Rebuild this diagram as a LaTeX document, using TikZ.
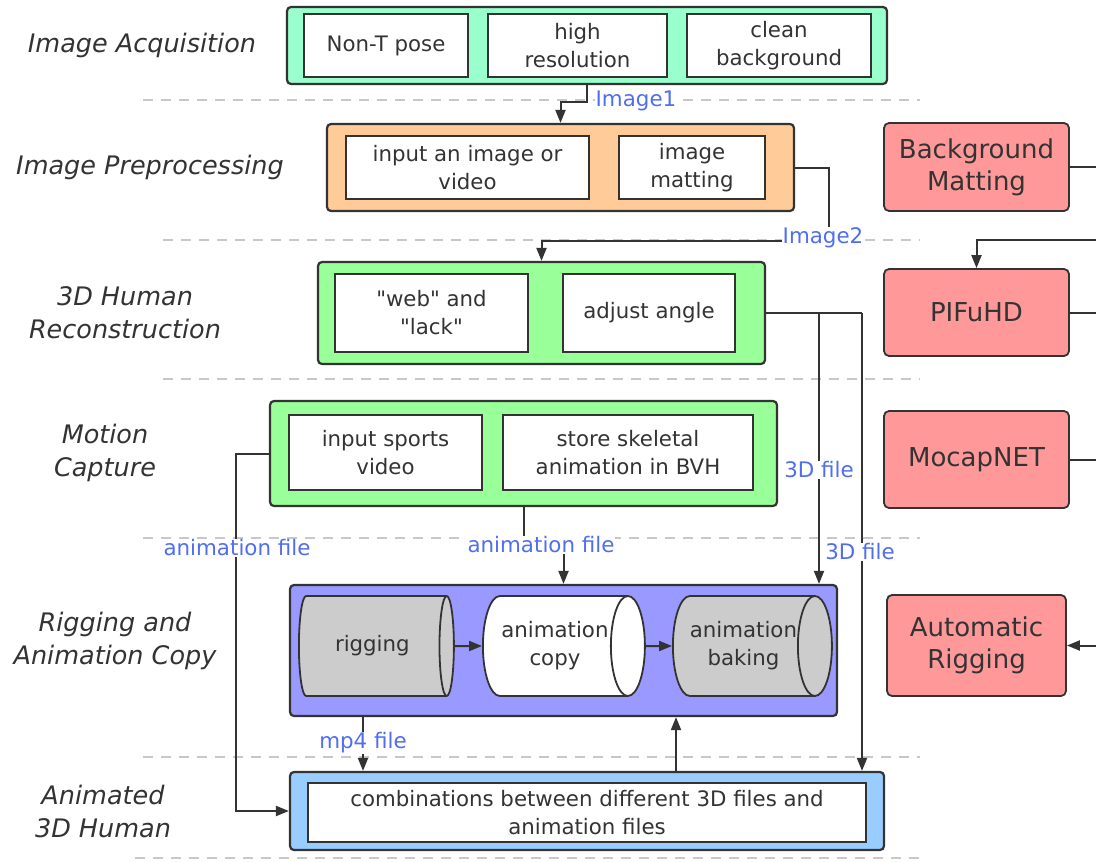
\documentclass[tikz,border=0pt]{standalone}
\usepackage{fontspec}
\setmainfont{DejaVu Sans}
\usetikzlibrary{arrows.meta,shapes.geometric}

\definecolor{linegray}{RGB}{51,51,51}
\definecolor{txtgray}{RGB}{51,51,51}
\definecolor{sepgray}{RGB}{200,200,200}
\definecolor{labblue}{RGB}{80,110,240}
\definecolor{acqmint}{RGB}{153,255,204}
\definecolor{preorange}{RGB}{255,204,153}
\definecolor{recgreen}{RGB}{153,255,153}
\definecolor{rigpurple}{RGB}{153,153,255}
\definecolor{anilblue}{RGB}{153,204,255}
\definecolor{toolred}{RGB}{255,153,153}
\definecolor{drumgray}{RGB}{204,204,204}

\tikzset{
  lane/.style={font=\fontsize{25.5}{33}\selectfont\itshape, text=txtgray, align=center},
  stage/.style={draw=linegray, line width=2.2pt, rounded corners=4pt, inner sep=0pt},
  item/.style={draw=linegray, line width=2pt, fill=white, align=center, inner sep=0pt,
    font=\fontsize{21.3}{28}\selectfont, text=txtgray},
  tool/.style={draw=linegray, line width=1.8pt, fill=toolred, rounded corners=5pt, align=center,
    inner sep=0pt, font=\fontsize{26}{32}\selectfont, text=txtgray},
  drum/.style={cylinder, aspect=0.7, draw=linegray, line width=1.8pt, align=center, inner sep=0pt,
    font=\fontsize{21.3}{28}\selectfont, text=txtgray, minimum width=100pt, anchor=west},
  flow/.style={draw=linegray, line width=2pt, -{Triangle[length=13pt,width=10pt]}},
  wire/.style={draw=linegray, line width=2pt},
  flab/.style={font=\fontsize{21.4}{24}\selectfont, text=labblue, fill=white, inner sep=1pt},
  lanesep/.style={draw=sepgray, line width=1.6pt, dash pattern=on 10pt off 8pt},
}

\begin{document}
\begin{tikzpicture}[x=1pt,y=-1pt]
  \useasboundingbox[fill=white] (0,0) rectangle (1096,862);

  % lane separators
  \foreach \y/\xa in {100/143, 240/163, 379/163, 538/143, 757/143, 858/135}
    \draw[lanesep] (\xa,\y) -- (920,\y);

  % lane titles
  \node[lane] (t1) at (142,45) {Image Acquisition};
  \node[lane] (t2) at (150,167) {Image Preprocessing};
  \node[lane] (t3) at (125,313) {3D Human\\Reconstruction};
  \node[lane] (t4) at (105,453) {Motion\\Capture};
  \node[lane] (t5) at (115,641) {Rigging and\\Animation Copy};
  \node[lane] (t6) at (103,811) {Animated\\3D Human};

  % stages
  \node[stage, fill=acqmint, minimum width=600pt, minimum height=77pt] (acq) at (587,45.5) {};
  \node[stage, fill=preorange, minimum width=467pt, minimum height=87pt] (pre) at (560.5,167.5) {};
  \node[stage, fill=recgreen, minimum width=447pt, minimum height=102pt] (rec) at (541.5,313) {};
  \node[stage, fill=recgreen, minimum width=507pt, minimum height=105pt] (moc) at (523.5,453.5) {};
  \node[stage, fill=rigpurple, minimum width=547pt, minimum height=131pt] (rig) at (563.5,650.5) {};
  \node[stage, fill=anilblue, minimum width=594pt, minimum height=78pt] (ani) at (587,811) {};

  % items
  \node[item, minimum width=164pt, minimum height=63pt] (nont) at (386,45.5) {Non-T pose};
  \node[item, minimum width=179pt, minimum height=63pt] (hres) at (577.5,45.5) {high\\resolution};
  \node[item, minimum width=184pt, minimum height=63pt] (clean) at (779,45.5) {clean\\background};
  \node[item, minimum width=243pt, minimum height=63pt] (inimg) at (467.5,167.5) {input an image or\\video};
  \node[item, minimum width=146pt, minimum height=63pt] (matt) at (692,167.5) {image\\matting};
  \node[item, minimum width=193pt, minimum height=78pt] (web) at (431.5,313)
    {\textquotedbl web\textquotedbl{} and\\\textquotedbl lack\textquotedbl};
  \node[item, minimum width=172pt, minimum height=78pt] (adj) at (649,313) {adjust angle};
  \node[item, minimum width=193pt, minimum height=75pt] (sport) at (385.5,452.5) {input sports\\video};
  \node[item, minimum width=250pt, minimum height=75pt] (skel) at (628,452.5) {store skeletal\\animation in BVH};
  \node[drum, fill=drumgray, minimum height=155pt] (rigcyl) at (298,646) {rigging};
  \node[drum, fill=white, minimum height=162pt] (copycyl) at (482,646) {animation\\copy};
  \node[drum, fill=drumgray, minimum height=152pt] (bakecyl) at (672,646) {animation\\baking};
  \node[item, minimum width=558pt, minimum height=59pt] (comb) at (587,812.5)
    {combinations between different 3D files and\\animation files};

  % tools
  \node[tool, minimum width=185pt, minimum height=88pt] (bgm) at (976.5,167) {Background\\Matting};
  \node[tool, minimum width=185pt, minimum height=87pt] (pifu) at (976.5,312.5) {PIFuHD};
  \node[tool, minimum width=185pt, minimum height=97pt] (mocap) at (976.5,459.5) {MocapNET};
  \node[tool, minimum width=179pt, minimum height=101pt] (autorig) at (976.5,645.5) {Automatic\\Rigging};

  % helper coordinates
  \coordinate (f3da) at (819,313);
  \coordinate (f3db) at (862,313);
  \coordinate (mp4x) at (363,0);
  \coordinate (upx) at (676,0);
  \coordinate (edge) at (1096,0);
  \coordinate (ep) at (1096,240);

  % connectors
  \draw[flow] (acq.south) -- ++(0,17) -| (pre.north);
  \draw[flow] (pre.east) -| ++(34,73) -| (rec.north);
  \draw[wire] (rec.east) -- (f3db);
  \draw[flow] (f3da) -- (f3da |- rig.north);
  \draw[flow] (f3db) -- (f3db |- ani.north);
  \draw[flow] (moc.west) -- ++(-33,0) |- (ani.west);
  \draw[flow] (moc.south) -- ++(0,39) -| (rig.north);
  \draw[flow] (rigcyl.east) -- (copycyl.west);
  \draw[flow] (copycyl.east) -- (bakecyl.west);
  \draw[flow] (rig.south -| mp4x) -- (ani.north -| mp4x);
  \draw[flow] (ani.north -| upx) -- (rig.south -| upx);
  \draw[wire] (bgm.east) -- (bgm.east -| edge);
  \draw[flow] (ep) -| (pifu.north);
  \draw[wire] (pifu.east) -- (pifu.east -| edge);
  \draw[wire] (mocap.east) -- (mocap.east -| edge);
  \draw[flow] (autorig.east -| edge) -- (autorig.east);

  % connector labels
  \node[flab] (img1) at (636,101) {Image1};
  \node[flab] (img2) at (823,238) {Image2};
  \node[flab] (fa) at (819,470) {3D file};
  \node[flab] (fb) at (860,552) {3D file};
  \node[flab] (anma) at (237,548) {animation file};
  \node[flab] (anmb) at (541,545) {animation file};
  \node[flab] (mp4) at (363,743) {mp4 file};
\end{tikzpicture}
\end{document}
